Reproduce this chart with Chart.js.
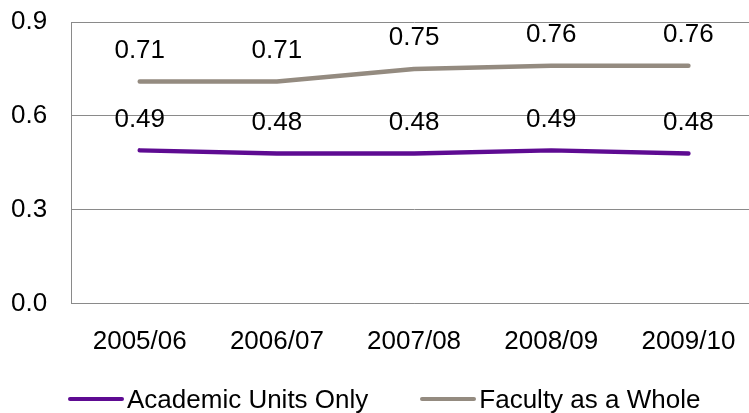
<!DOCTYPE html>
<html>
<head>
<meta charset="utf-8">
<script src="https://cdn.jsdelivr.net/npm/chart.js"></script>
<style>
  html, body { margin: 0; padding: 0; background: #fff; overflow: hidden; }
  #wrap { position: relative; width: 757px; height: 413px; }
  #legend {
    position: absolute; left: 68px; top: 383px; height: 32px; line-height: 32px;
    display: flex; align-items: center;
    font-family: "Liberation Sans", Arial, sans-serif; font-size: 26px; color: #000;
  }
  #legend .item { display: flex; align-items: center; margin-right: 52px; white-space: nowrap; }
  #legend .swatch { width: 56px; height: 4.5px; border-radius: 2.25px; margin-right: 3px; }
</style>
</head>
<body>
<div id="wrap">
  <canvas id="lineChart"></canvas>
  <div id="legend"></div>
</div>
<script>
const categories = ['2005/06', '2006/07', '2007/08', '2008/09', '2009/10'];
const academicUnits = [0.49, 0.48, 0.48, 0.49, 0.48];
const facultyWhole = [0.71, 0.71, 0.75, 0.76, 0.76];
const yTicks = [0.0, 0.3, 0.6, 0.9];

const FONT = '"Liberation Sans", Arial, sans-serif';
const GRID = '#8a8a8a';

// value labels above every point
const pointLabels = {
  id: 'pointLabels',
  afterDatasetsDraw(chart) {
    const ctx = chart.ctx;
    ctx.save();
    ctx.font = '26px ' + FONT;
    ctx.fillStyle = '#000';
    ctx.textAlign = 'center';
    ctx.textBaseline = 'middle';
    chart.data.datasets.forEach((ds, i) => {
      chart.getDatasetMeta(i).data.forEach((pt, j) => {
        ctx.fillText(ds.data[j].toFixed(2), pt.x, pt.y - 31);
      });
    });
    ctx.restore();
  }
};

// html legend with line swatches
const htmlLegend = {
  id: 'htmlLegend',
  afterUpdate(chart) {
    const box = document.getElementById('legend');
    box.innerHTML = '';
    chart.data.datasets.forEach(ds => {
      const item = document.createElement('div');
      item.className = 'item';
      const sw = document.createElement('span');
      sw.className = 'swatch';
      sw.style.background = ds.borderColor;
      const txt = document.createElement('span');
      txt.textContent = ds.label;
      item.appendChild(sw);
      item.appendChild(txt);
      box.appendChild(item);
    });
  }
};

document.addEventListener('DOMContentLoaded', function() {
  const ctx = document.getElementById('lineChart');

  new Chart(ctx, {
    type: 'line',
    data: {
      labels: categories,
      datasets: [
        {
          label: 'Academic Units Only',
          data: academicUnits,
          borderColor: '#5e0b92',
          backgroundColor: '#5e0b92',
          borderWidth: 4.5,
          borderCapStyle: 'round',
          borderJoinStyle: 'round',
          pointRadius: 0,
          tension: 0
        },
        {
          label: 'Faculty as a Whole',
          data: facultyWhole,
          borderColor: '#948b80',
          backgroundColor: '#948b80',
          borderWidth: 4.5,
          borderCapStyle: 'round',
          borderJoinStyle: 'round',
          pointRadius: 0,
          tension: 0
        }
      ]
    },
    options: {
      responsive: true,
      maintainAspectRatio: false,
      animation: false,
      layout: { padding: { left: 9, right: 0, top: 22, bottom: 53 } },
      plugins: {
        legend: { display: false },
        tooltip: { enabled: false }
      },
      scales: {
        x: {
          offset: true,
          // invisible tick marks keep the labels clear of the axis
          grid: { display: false, drawTicks: true, tickLength: 19, tickColor: 'rgba(0,0,0,0)' },
          border: { display: true, color: GRID, width: 1 },
          ticks: { color: '#000', font: { family: FONT, size: 26 }, padding: 3, maxRotation: 0 }
        },
        y: {
          min: 0,
          max: 0.9,
          afterBuildTicks: axis => { axis.ticks = yTicks.map(v => ({ value: v })); },
          grid: { color: GRID, lineWidth: 1, drawTicks: true, tickLength: 22, tickColor: 'rgba(0,0,0,0)' },
          border: { display: true, color: GRID, width: 1 },
          ticks: {
            color: '#000',
            font: { family: FONT, size: 26 },
            padding: 2,
            callback: v => Number(v).toFixed(1)
          }
        }
      }
    },
    plugins: [pointLabels, htmlLegend]
  });
});
</script>
</body>
</html>
